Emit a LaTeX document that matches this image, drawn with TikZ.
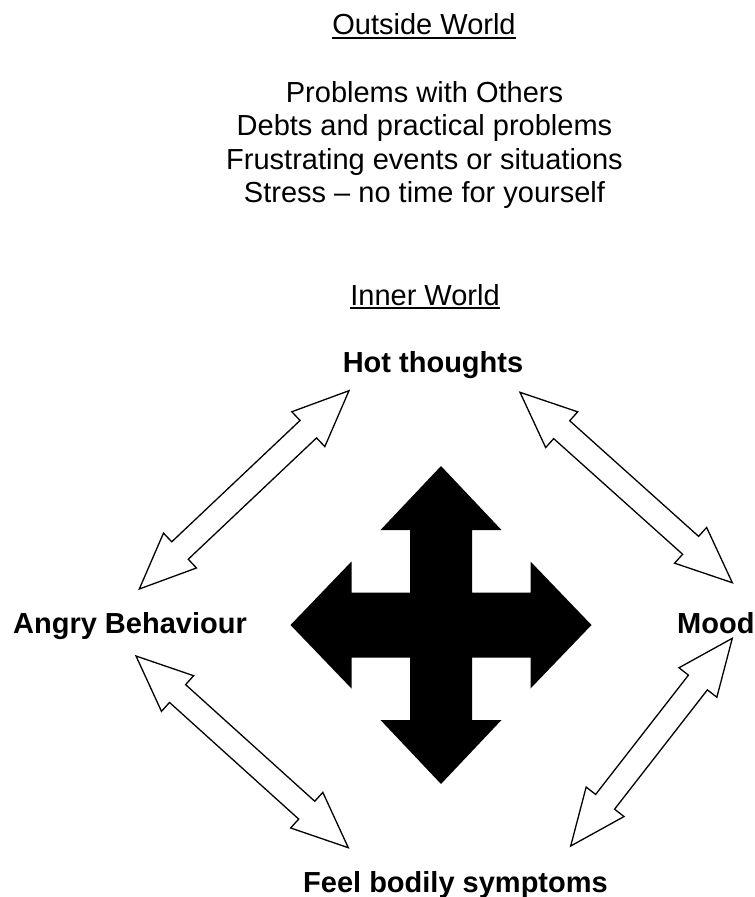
\documentclass[tikz,border=0pt]{standalone}
\usepackage{fontspec}
\setmainfont{Liberation Sans}
\usetikzlibrary{calc}
\tikzset{
  lbl/.style={inner sep=0pt, font=\fontsize{29}{33.5}\selectfont},
  boldlbl/.style={inner sep=0pt, font=\fontsize{29}{33.5}\selectfont\bfseries},
  uline/.style={line width=2.2pt},
  hollowarrow/.style={draw=black, fill=white, line width=1.3pt, line join=miter},
  crossfill/.style={fill=black}
}
\newcommand\dblarrow[3]{%
  \coordinate (#1h1) at ($(#2)!56pt!(#3)$);
  \coordinate (#1h2) at ($(#3)!56pt!(#2)$);
  \draw[hollowarrow] (#2) -- ($(#1h1)!24pt!90:(#3)$) -- ($(#1h1)!12pt!90:(#3)$)
    -- ($(#1h2)!12pt!-90:(#2)$) -- ($(#1h2)!24pt!-90:(#2)$) -- (#3)
    -- ($(#1h2)!24pt!90:(#2)$) -- ($(#1h2)!12pt!90:(#2)$)
    -- ($(#1h1)!12pt!-90:(#3)$) -- ($(#1h1)!24pt!-90:(#3)$) -- cycle;
}
\begin{document}
\begin{tikzpicture}[x=1pt, y=-1pt]
\useasboundingbox (0,0) rectangle (755,897);

% Outside world
\node[lbl, anchor=base] (outside) at (424,34) {Outside World};
\draw[uline] ([yshift=-4pt]outside.base west) -- ([yshift=-4pt]outside.base east);
% base anchor of a multi-line node = baseline of its last line
\node[lbl, anchor=base, align=center] (problems) at (424.5,202.7)
  {Problems with Others\\Debts and practical problems\\Frustrating events or situations\\Stress -- no time for yourself};

% Inner world
\node[lbl, anchor=base] (inner) at (425,305) {Inner World};
\draw[uline] ([yshift=-3pt]inner.base west) -- ([yshift=-3pt]inner.base east);

\node[boldlbl, anchor=base] (hot) at (433,372.7) {Hot thoughts};
\node[boldlbl, anchor=base] (angry) at (130,633) {Angry Behaviour};
\node[boldlbl, anchor=base west] (mood) at (677,633) {Mood};
\node[boldlbl, anchor=base] (feel) at (455.5,892) {Feel bodily symptoms};

% arrow end points
\coordinate (a1s) at (139.3,589);
\coordinate (a1e) at (349,390.7);
\coordinate (a2s) at (520,392.3);
\coordinate (a2e) at (732.3,582.7);
\coordinate (a3s) at (136,656);
\coordinate (a3e) at (348.3,847.7);
\coordinate (a4s) at (732.3,638.3);
\coordinate (a4e) at (570.7,846);

\dblarrow{aa}{a1s}{a1e}
\dblarrow{ab}{a2s}{a2e}
\dblarrow{ac}{a3s}{a3e}
\dblarrow{ad}{a4s}{a4e}

% central four-way arrow
\fill[crossfill, shift={(441,625)}]
  (0,-159) -- (60.5,-95) -- (31,-95) -- (31,-32.5) -- (89.5,-32.5) -- (89.5,-63.5)
  -- (150.5,0) -- (89.5,63.5) -- (89.5,32.5) -- (31,32.5) -- (31,95) -- (60.5,95)
  -- (0,159) -- (-60.5,95) -- (-31,95) -- (-31,32.5) -- (-89.5,32.5) -- (-89.5,63.5)
  -- (-150.5,0) -- (-89.5,-63.5) -- (-89.5,-32.5) -- (-31,-32.5) -- (-31,-95) -- (-60.5,-95) -- cycle;
\end{tikzpicture}
\end{document}
